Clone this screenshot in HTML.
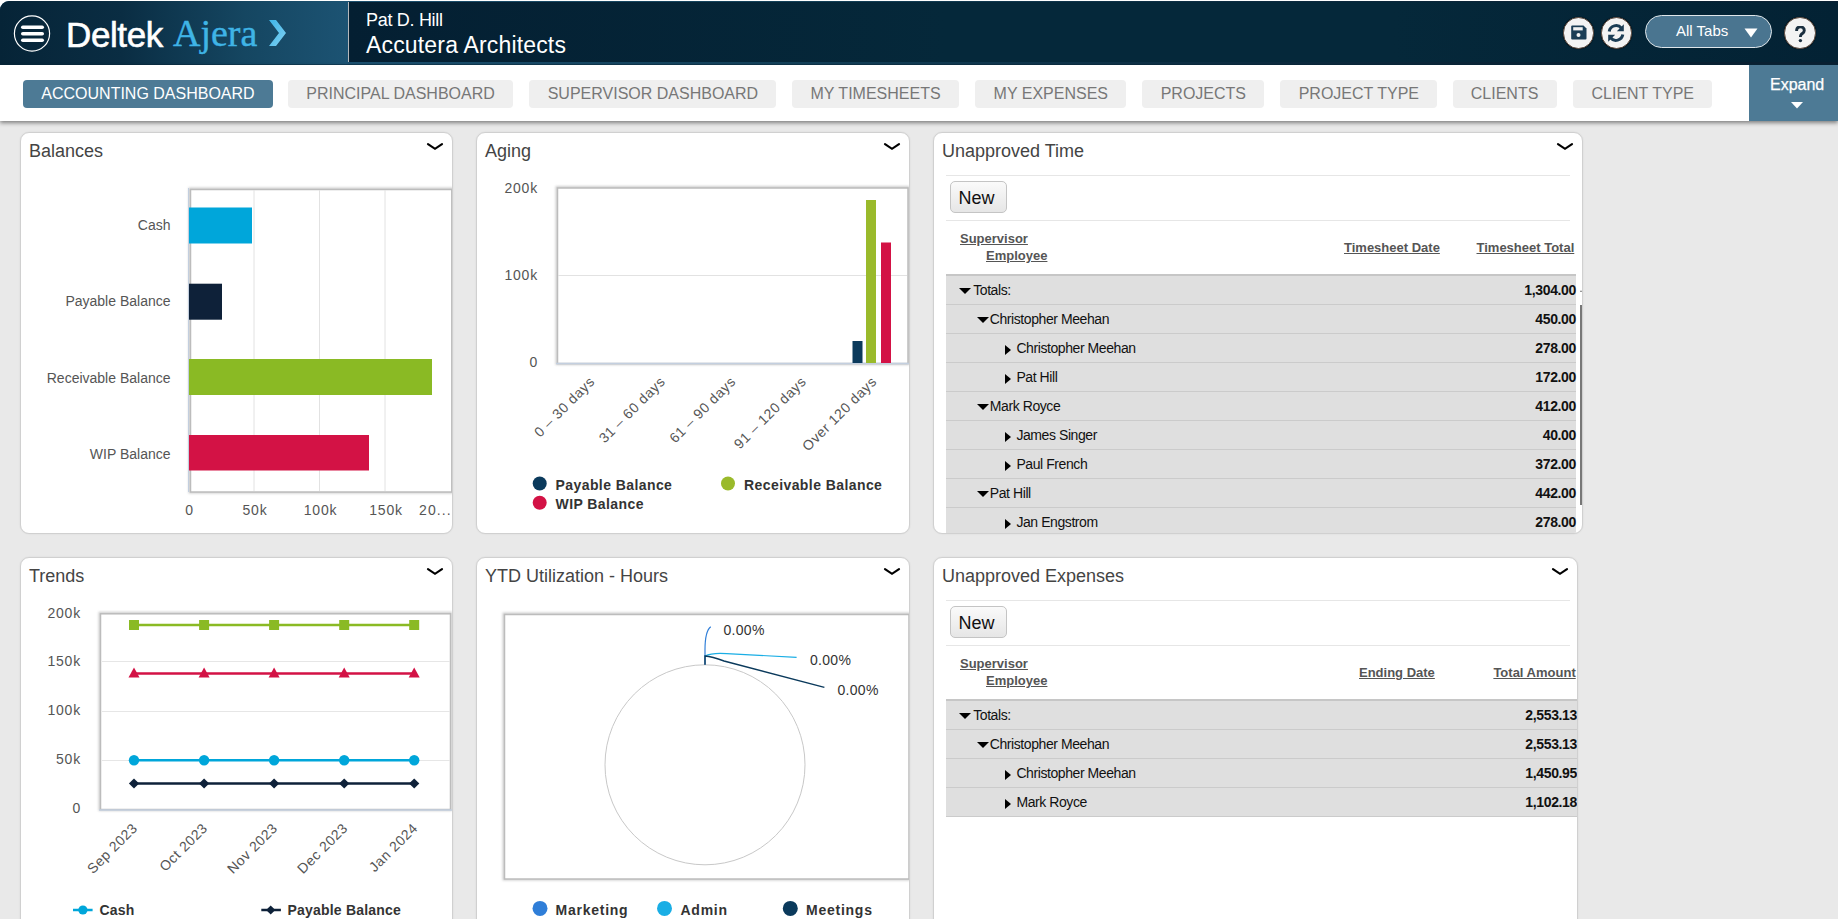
<!DOCTYPE html>
<html><head><meta charset="utf-8">
<style>
*{box-sizing:border-box;margin:0;padding:0}
html,body{width:1838px;height:919px;overflow:hidden}
body{background:#e9e9e9;font-family:"Liberation Sans",sans-serif;position:relative}
.abs{position:absolute}
#hdr{position:absolute;left:0;top:1px;width:1838px;height:64px;background:linear-gradient(90deg,#1b4f6e 0,#1b4f6e 360px,#134058 800px,#0c2b40 1250px,#0a2133 1600px);border-top-left-radius:9px;overflow:hidden}
#hdrL{position:absolute;left:0;top:0;width:348px;height:64px;background:linear-gradient(90deg,#062437 0%,#0a2d43 35%,#154661 70%,#1c5373 100%)}
#hdrLine{position:absolute;left:348px;top:1px;width:1px;height:60px;background:#b4b8bc}
#hdrR{position:absolute;left:349px;top:1px;width:1489px;height:60px;background:linear-gradient(90deg,#041f32 0%,#05283a 40%,#05283a 70%,#032234 100%)}
#hdrB{position:absolute;left:0;top:63px;width:1838px;height:1px;background:rgba(8,40,60,.5)}
#tabbar{position:absolute;left:0;top:65px;width:1838px;height:56px;background:#fff;box-shadow:0 2px 4px rgba(0,0,0,.45)}
.tab{position:absolute;top:15px;height:28px;border-radius:4px;background:#efefef;color:#777;font-size:16px;line-height:28px;padding:0 18.3px;white-space:nowrap}
.tab.act{background:#4d7a95;color:#fff}
#expand{position:absolute;left:1749px;top:0;width:89px;height:56px;background:#4d7a95;color:#fff;font-size:16px}
.panel{position:absolute;background:#fff;border:1px solid #d0d0d0;border-radius:9px;overflow:hidden;box-shadow:0 0 2px rgba(0,0,0,.08)}
.ptitle{position:absolute;left:8px;top:7.8px;font-size:18px;color:#444;white-space:nowrap}
.circ{width:31.5px;height:31.5px;border-radius:50%;background:#f3f3f3;border:1px solid #5a4a40;box-shadow:0 0 1px #000}
.chev{position:absolute;top:10px;width:16px;height:8px;overflow:visible}

.hl{position:absolute;height:1px;background:#e6e6e6}
.btn{position:absolute;width:57px;height:32px;border:1px solid #c4c4c4;border-radius:5px;background:linear-gradient(#fafafa,#e6e6e6);font-size:18px;color:#111;line-height:33px;padding-left:7.5px}
.th{position:absolute;font-size:13px;font-weight:bold;color:#555;text-decoration:underline;white-space:nowrap;line-height:15px}
.rows{position:absolute;background:#dfdfdf;border-top:2px solid #c6c6c6}
.row{position:relative;height:29px;border-bottom:1px solid #cbcbcb;font-size:14px;letter-spacing:-0.42px;color:#111;line-height:28px;white-space:nowrap}
.row .t{position:absolute;top:0.3px}
.row .n{position:absolute;right:0px;top:-0.5px;font-weight:bold;font-size:14px;letter-spacing:-0.35px}
.td{position:absolute;width:0;height:0;border-left:6px solid transparent;border-right:6px solid transparent;border-top:6px solid #000}
.tr{position:absolute;width:0;height:0;border-top:5px solid transparent;border-bottom:5px solid transparent;border-left:6.5px solid #000}
</style></head><body>
<div class="abs" style="left:0;top:0;width:1838px;height:66px;background:#fff"></div>
<div id="hdr">
  <div id="hdrL"></div>
  <div id="hdrLine"></div>
  <div id="hdrR"></div>
  <div id="hdrB"></div>

  <svg class="abs" style="left:13px;top:14px" width="38" height="38" viewBox="0 0 38 38">
    <circle cx="19" cy="18.5" r="17.6" fill="none" stroke="#fff" stroke-width="1.2"/>
    <g stroke="#fff" stroke-width="3.6" stroke-linecap="round">
      <line x1="9.8" y1="12.2" x2="29.2" y2="12.2"/><line x1="9.8" y1="18.7" x2="29.2" y2="18.7"/><line x1="9.8" y1="25.2" x2="29.2" y2="25.2"/>
    </g>
  </svg>
  <div class="abs" style="left:66px;top:13.5px;font-size:35px;color:#fff;letter-spacing:-0.4px;-webkit-text-stroke:0.6px #fff;line-height:40px">Deltek</div>
  <div class="abs" style="left:173px;top:12px;font-family:'Liberation Serif',serif;font-size:38px;color:#3fb4e6;line-height:40px;-webkit-text-stroke:0.4px #3fb4e6">Ajera</div>
  <svg class="abs" style="left:268px;top:19px" width="20" height="28" viewBox="0 0 20 28">
    <defs><linearGradient id="cg" x1="0" y1="0" x2="1" y2="1"><stop offset="0" stop-color="#3db5e8"/><stop offset="1" stop-color="#7fd0f2"/></linearGradient></defs>
    <path d="M1 0 L8 0 L18 13 L8 26 L1 26 L11 13 Z" fill="url(#cg)"/>
  </svg>
  <div class="abs" style="left:366px;top:8.5px;font-size:18px;color:#fff;line-height:20px;letter-spacing:-0.3px">Pat D. Hill</div>
  <div class="abs" style="left:366px;top:31.3px;font-size:23px;color:#fff;line-height:26px;letter-spacing:0.17px">Accutera Architects</div>
  <div class="abs circ" style="left:1562.5px;top:16px"></div>
  <div class="abs circ" style="left:1600.5px;top:16px"></div>
  <svg class="abs" style="left:1571px;top:24px" width="16" height="15" viewBox="0 0 16 15">
    <path d="M1.2 0.5 H12.5 L15.5 3.5 V13.5 Q15.5 14.5 14.5 14.5 H1.2 Q0.2 14.5 0.2 13.5 V1.5 Q0.2 0.5 1.2 0.5 Z" fill="#1b3d55"/>
    <rect x="2.2" y="2.2" width="9.5" height="3.2" fill="#f2f2f2"/>
    <circle cx="7.5" cy="10" r="2" fill="#f2f2f2"/>
  </svg>
  <svg class="abs" style="left:1606px;top:22px" width="20" height="20" viewBox="0 0 20 20">
    <path d="M3.2 8.5 A7 7 0 0 1 15.5 5.2" fill="none" stroke="#1b3d55" stroke-width="3"/>
    <path d="M17.8 1.2 L17.8 8.2 L10.8 8.2 Z" fill="#1b3d55"/>
    <path d="M16.8 11.5 A7 7 0 0 1 4.5 14.8" fill="none" stroke="#1b3d55" stroke-width="3"/>
    <path d="M2.2 18.8 L2.2 11.8 L9.2 11.8 Z" fill="#1b3d55"/>
  </svg>
  <div class="abs" style="left:1645px;top:14px;width:127px;height:33px;border-radius:17px;background:#4a7590;border:1px solid #dfe6ea"></div>
  <div class="abs" style="left:1676px;top:20.5px;font-size:15px;color:#fff;line-height:18px">All Tabs</div>
  <svg class="abs" style="left:1744px;top:27px" width="14" height="10" viewBox="0 0 14 10"><path d="M0.5 0.5 H13.5 L7 9.5 Z" fill="#fff"/></svg>
  <div class="abs circ" style="left:1784px;top:16px"></div>
  <svg class="abs" style="left:1794.5px;top:24.5px" width="11" height="17" viewBox="0 0 11 17"><path d="M1.6 5 C1.6 2.2 3.4 0.9 5.4 0.9 C7.6 0.9 9.3 2.3 9.3 4.4 C9.3 6.5 7.6 7.3 6.5 8.2 C5.7 8.9 5.4 9.5 5.4 11" fill="none" stroke="#1b2f3f" stroke-width="2.9"/><circle cx="5.4" cy="14.6" r="1.7" fill="#1b2f3f"/></svg>
</div>
<div id="tabbar">
  <div class="tab act" style="left:23px">ACCOUNTING DASHBOARD</div>
  <div class="tab" style="left:288px">PRINCIPAL DASHBOARD</div>
  <div class="tab" style="left:529.4px">SUPERVISOR DASHBOARD</div>
  <div class="tab" style="left:792.2px">MY TIMESHEETS</div>
  <div class="tab" style="left:975.3px">MY EXPENSES</div>
  <div class="tab" style="left:1142.4px">PROJECTS</div>
  <div class="tab" style="left:1280.4px">PROJECT TYPE</div>
  <div class="tab" style="left:1452.5px">CLIENTS</div>
  <div class="tab" style="left:1573.2px">CLIENT TYPE</div>
  <div id="expand"><div class="abs" style="left:21px;top:11px;line-height:18px;-webkit-text-stroke:0.25px #fff">Expand</div><svg class="abs" style="left:42px;top:37px" width="12" height="7" viewBox="0 0 12 7"><path d="M0 0 H12 L6 6.5 Z" fill="#fff"/></svg></div>
</div>

<div class="panel" id="p1" style="left:20px;top:132px;width:433px;height:402px">
  <div class="ptitle">Balances</div><svg class="chev" style="right:9.5px" viewBox="0 0 16 8"><path d="M1 1.2 L8 5.8 L15 1.2" fill="none" stroke="#000" stroke-width="2.2" stroke-linecap="round" stroke-linejoin="miter"/></svg>
  <svg class="abs" style="left:-1px;top:-1px" width="433" height="402" viewBox="20 132 433 402" font-family="Liberation Sans, sans-serif">
    <defs><filter id="fs" x="-5%" y="-5%" width="110%" height="110%"><feGaussianBlur stdDeviation="0.8"/></filter></defs>
    <rect x="190" y="189" width="262" height="303" fill="none" stroke="#cfcfcf" stroke-width="3" filter="url(#fs)"/>
    <rect x="190.5" y="189.5" width="261.3" height="302.5" fill="#fff" stroke="#bcbcbc" stroke-width="1.5"/>
    <g stroke="#e2e2e2" stroke-width="1"><line x1="254" y1="190" x2="254" y2="491"/><line x1="319.5" y1="190" x2="319.5" y2="491"/><line x1="385" y1="190" x2="385" y2="491"/></g>
    <line x1="188.5" y1="188" x2="188.5" y2="492" stroke="#c3cfdf" stroke-width="1"/>
    <rect x="189" y="207.5" width="63" height="36" fill="#00a6da"/>
    <rect x="189" y="283.7" width="33" height="36" fill="#0e2139"/>
    <rect x="189" y="359" width="243" height="36" fill="#8aba24"/>
    <rect x="189" y="435" width="180" height="35.5" fill="#d31245"/>
    <g font-size="14" fill="#555" text-anchor="end">
      <text x="170.5" y="230">Cash</text><text x="170.5" y="306">Payable Balance</text><text x="170.5" y="382.5">Receivable Balance</text><text x="170.5" y="459">WIP Balance</text>
    </g>
    <g font-size="14" fill="#555" text-anchor="middle" letter-spacing="0.8">
      <text x="189.5" y="515">0</text><text x="255" y="515">50k</text><text x="320.5" y="515">100k</text><text x="386" y="515">150k</text><text x="419" y="515" text-anchor="start" letter-spacing="1.1">20...</text>
    </g>
  </svg>
</div>
<div class="panel" id="p2" style="left:476px;top:132px;width:434px;height:402px">
  <div class="ptitle">Aging</div><svg class="chev" style="right:9.5px" viewBox="0 0 16 8"><path d="M1 1.2 L8 5.8 L15 1.2" fill="none" stroke="#000" stroke-width="2.2" stroke-linecap="round" stroke-linejoin="miter"/></svg>
  <svg class="abs" style="left:-1px;top:-1px" width="434" height="402" viewBox="476 132 434 402" font-family="Liberation Sans, sans-serif">
    <rect x="557" y="187.5" width="351" height="176" fill="none" stroke="#cfcfcf" stroke-width="3" filter="url(#fs)"/>
    <rect x="557.5" y="188" width="350.5" height="175.5" fill="#fff" stroke="#bcbcbc" stroke-width="1.5"/>
    <line x1="558" y1="275.5" x2="907" y2="275.5" stroke="#e2e2e2"/>
    <line x1="556" y1="363.5" x2="909" y2="363.5" stroke="#c3cfdf" stroke-width="1.5"/>
    <rect x="852.5" y="341" width="10" height="22" fill="#0b3a5c"/>
    <rect x="866" y="200" width="10" height="163" fill="#9aba2b"/>
    <rect x="881" y="242.5" width="10" height="120.5" fill="#d31245"/>
    <g font-size="14" fill="#555" text-anchor="end" letter-spacing="0.8">
      <text x="538" y="192.5">200k</text><text x="538" y="279.5">100k</text><text x="538" y="367">0</text>
    </g>
    <g font-size="14" fill="#555" text-anchor="end" letter-spacing="0.55">
      <text transform="translate(595.5,382.5) rotate(-45)">0 – 30 days</text>
      <text transform="translate(666,382.5) rotate(-45)">31 – 60 days</text>
      <text transform="translate(736.5,382.5) rotate(-45)">61 – 90 days</text>
      <text transform="translate(807,382.5) rotate(-45)">91 – 120 days</text>
      <text transform="translate(877.5,382.5) rotate(-45)">Over 120 days</text>
    </g>
    <circle cx="539.7" cy="483.5" r="7" fill="#0b3a5c"/>
    <circle cx="728" cy="483.5" r="7" fill="#9aba2b"/>
    <circle cx="539.7" cy="502.8" r="7" fill="#d31245"/>
    <g font-size="14" font-weight="bold" fill="#333" letter-spacing="0.42">
      <text x="555.5" y="489.5">Payable Balance</text><text x="744" y="489.5">Receivable Balance</text><text x="555.5" y="508.5">WIP Balance</text>
    </g>
  </svg>
</div>
<div class="panel" id="p3" style="left:933px;top:132px;width:650px;height:402px">
  <div class="ptitle">Unapproved Time</div>
  <div class="hl" style="left:12px;top:42px;width:624px"></div>
  <div class="btn" style="left:16px;top:48px">New</div>
  <div class="hl" style="left:12px;top:87px;width:624px"></div>
  <div class="th" style="left:26px;top:98px">Supervisor</div>
  <div class="th" style="left:52px;top:115px">Employee</div>
  <div class="th" style="left:410px;top:107px">Timesheet Date</div>
  <div class="th" style="left:542.5px;top:107px">Timesheet Total</div>
  <div class="rows" style="left:12px;top:141px;width:630px">
<div class="row"><div class="td" style="left:12.9px;top:11.8px"></div><span class="t" style="left:27.2px">Totals:</span><span class="n">1,304.00</span></div>
<div class="row"><div class="td" style="left:30.6px;top:11.8px"></div><span class="t" style="left:43.8px">Christopher Meehan</span><span class="n">450.00</span></div>
<div class="row"><div class="tr" style="left:59.3px;top:11px"></div><span class="t" style="left:70.4px">Christopher Meehan</span><span class="n">278.00</span></div>
<div class="row"><div class="tr" style="left:59.3px;top:11px"></div><span class="t" style="left:70.4px">Pat Hill</span><span class="n">172.00</span></div>
<div class="row"><div class="td" style="left:30.6px;top:11.8px"></div><span class="t" style="left:43.8px">Mark Royce</span><span class="n">412.00</span></div>
<div class="row"><div class="tr" style="left:59.3px;top:11px"></div><span class="t" style="left:70.4px">James Singer</span><span class="n">40.00</span></div>
<div class="row"><div class="tr" style="left:59.3px;top:11px"></div><span class="t" style="left:70.4px">Paul French</span><span class="n">372.00</span></div>
<div class="row"><div class="td" style="left:30.6px;top:11.8px"></div><span class="t" style="left:43.8px">Pat Hill</span><span class="n">442.00</span></div>
<div class="row"><div class="tr" style="left:59.3px;top:11px"></div><span class="t" style="left:70.4px">Jan Engstrom</span><span class="n">278.00</span></div>
  </div>
  <div class="abs" style="left:646px;top:172px;width:2px;height:200px;background:#777"></div><div class="abs" style="left:645.5px;top:157px;width:0;height:0;border-left:1.5px solid transparent;border-right:1.5px solid transparent;border-bottom:2px solid #777"></div>
<svg class="chev" style="right:9.5px" viewBox="0 0 16 8"><path d="M1 1.2 L8 5.8 L15 1.2" fill="none" stroke="#000" stroke-width="2.2" stroke-linecap="round" stroke-linejoin="miter"/></svg>
</div>
<div class="panel" id="p4" style="left:20px;top:557px;width:433px;height:420px">
  <div class="ptitle">Trends</div><svg class="chev" style="right:9.5px" viewBox="0 0 16 8"><path d="M1 1.2 L8 5.8 L15 1.2" fill="none" stroke="#000" stroke-width="2.2" stroke-linecap="round" stroke-linejoin="miter"/></svg>
  <svg class="abs" style="left:-1px;top:-1px" width="433" height="420" viewBox="20 557 433 420" font-family="Liberation Sans, sans-serif">
    <rect x="100" y="613.3" width="350.5" height="196.2" fill="none" stroke="#cfcfcf" stroke-width="3" filter="url(#fs)"/>
    <rect x="100.5" y="613.8" width="350" height="195.7" fill="#fff" stroke="#bcbcbc" stroke-width="1.5"/>
    <g stroke="#e6e6e6"><line x1="102" y1="661.5" x2="450" y2="661.5"/><line x1="102" y1="711.5" x2="450" y2="711.5"/><line x1="102" y1="760.5" x2="450" y2="760.5"/></g>
    <line x1="99" y1="810" x2="452" y2="810" stroke="#c3cfdf" stroke-width="1.5"/>
    <g stroke-width="2.5" fill="none">
      <line x1="134" y1="625" x2="414.2" y2="625" stroke="#8aba24"/>
      <line x1="134" y1="673.4" x2="414.2" y2="673.4" stroke="#d31245"/>
      <line x1="134" y1="760.3" x2="414.2" y2="760.3" stroke="#00a6da"/>
      <line x1="134" y1="783.5" x2="414.2" y2="783.5" stroke="#0e2139"/>
    </g>
    <rect x="129.0" y="620.0" width="10" height="10" fill="#8aba24"/><rect x="199.1" y="620.0" width="10" height="10" fill="#8aba24"/><rect x="269.1" y="620.0" width="10" height="10" fill="#8aba24"/><rect x="339.2" y="620.0" width="10" height="10" fill="#8aba24"/><rect x="409.2" y="620.0" width="10" height="10" fill="#8aba24"/><path d="M134.0 667.4 L139.5 677.4 L128.5 677.4 Z" fill="#d31245"/><path d="M204.1 667.4 L209.6 677.4 L198.6 677.4 Z" fill="#d31245"/><path d="M274.1 667.4 L279.6 677.4 L268.6 677.4 Z" fill="#d31245"/><path d="M344.2 667.4 L349.7 677.4 L338.7 677.4 Z" fill="#d31245"/><path d="M414.2 667.4 L419.7 677.4 L408.7 677.4 Z" fill="#d31245"/><circle cx="134.0" cy="760.3" r="5.2" fill="#00a6da"/><circle cx="204.1" cy="760.3" r="5.2" fill="#00a6da"/><circle cx="274.1" cy="760.3" r="5.2" fill="#00a6da"/><circle cx="344.2" cy="760.3" r="5.2" fill="#00a6da"/><circle cx="414.2" cy="760.3" r="5.2" fill="#00a6da"/><path d="M134.0 778.4 L139.1 783.5 L134.0 788.6 L128.9 783.5 Z" fill="#0e2139"/><path d="M204.1 778.4 L209.2 783.5 L204.1 788.6 L199.0 783.5 Z" fill="#0e2139"/><path d="M274.1 778.4 L279.2 783.5 L274.1 788.6 L269.0 783.5 Z" fill="#0e2139"/><path d="M344.2 778.4 L349.3 783.5 L344.2 788.6 L339.1 783.5 Z" fill="#0e2139"/><path d="M414.2 778.4 L419.3 783.5 L414.2 788.6 L409.1 783.5 Z" fill="#0e2139"/>
    <g font-size="14" fill="#555" text-anchor="end" letter-spacing="0.8">
      <text x="81" y="617.5">200k</text><text x="81" y="665.7">150k</text><text x="81" y="715.2">100k</text><text x="81" y="764.2">50k</text><text x="81" y="813">0</text>
    </g>
    <g font-size="14" fill="#555" text-anchor="end" letter-spacing="0.55">
      <text transform="translate(138.4,829) rotate(-45)">Sep 2023</text>
      <text transform="translate(208.5,829) rotate(-45)">Oct 2023</text>
      <text transform="translate(278.5,829) rotate(-45)">Nov 2023</text>
      <text transform="translate(348.6,829) rotate(-45)">Dec 2023</text>
      <text transform="translate(418.6,829) rotate(-45)">Jan 2024</text>
    </g>
    <line x1="73" y1="910" x2="92.6" y2="910" stroke="#00a6da" stroke-width="2.5"/>
    <circle cx="82.9" cy="910" r="4.6" fill="#00a6da"/>
    <line x1="261.3" y1="910" x2="280.9" y2="910" stroke="#0e2139" stroke-width="2.5"/>
    <path d="M270.7 905.4 L275.3 910 L270.7 914.6 L266.1 910 Z" fill="#0e2139"/>
    <g font-size="14" font-weight="bold" fill="#333" letter-spacing="0.2">
      <text x="99.5" y="914.5">Cash</text><text x="287.5" y="914.5">Payable Balance</text>
    </g>
  </svg>
</div>
<div class="panel" id="p5" style="left:476px;top:557px;width:434px;height:420px">
  <div class="ptitle">YTD Utilization - Hours</div><svg class="chev" style="right:9.5px" viewBox="0 0 16 8"><path d="M1 1.2 L8 5.8 L15 1.2" fill="none" stroke="#000" stroke-width="2.2" stroke-linecap="round" stroke-linejoin="miter"/></svg>
  <svg class="abs" style="left:-1px;top:-1px" width="434" height="420" viewBox="476 557 434 420" font-family="Liberation Sans, sans-serif">
    <rect x="504" y="614" width="405" height="265" fill="none" stroke="#cfcfcf" stroke-width="3" filter="url(#fs)"/>
    <rect x="504.5" y="614.5" width="404.5" height="264.5" fill="#fff" stroke="#bcbcbc" stroke-width="1.5"/>
    <circle cx="705" cy="764.8" r="100" fill="#fff" stroke="#c8c8c8" stroke-width="1"/>
    <path d="M705 664.7 L705 650 Q705 631 710.8 626.8" fill="none" stroke="#2f7ed8" stroke-width="1.2"/>
    <path d="M705 656 Q712 652.5 726.6 653.6 L796.6 657.4" fill="none" stroke="#1aaee5" stroke-width="1.2"/>
    <path d="M705 664.7 L705 656 Q712 656.5 724 661 L824.4 687.4" fill="none" stroke="#0b3a5c" stroke-width="1.4"/>
    <g font-size="14" fill="#333" letter-spacing="0.3">
      <text x="723.5" y="635">0.00%</text><text x="810" y="665">0.00%</text><text x="837.5" y="695">0.00%</text>
    </g>
    <circle cx="540" cy="908.4" r="7.5" fill="#2f7ed8"/>
    <circle cx="664.5" cy="908.4" r="7.5" fill="#1aaee5"/>
    <circle cx="790.3" cy="908.4" r="7.5" fill="#0b3a5c"/>
    <g font-size="14" font-weight="bold" fill="#333" letter-spacing="0.75">
      <text x="555.5" y="914.5">Marketing</text><text x="680.5" y="914.5">Admin</text><text x="806" y="914.5">Meetings</text>
    </g>
  </svg>
</div>
<div class="panel" id="p6" style="left:933px;top:557px;width:645px;height:420px">
  <div class="ptitle">Unapproved Expenses</div><svg class="chev" style="right:9.5px" viewBox="0 0 16 8"><path d="M1 1.2 L8 5.8 L15 1.2" fill="none" stroke="#000" stroke-width="2.2" stroke-linecap="round" stroke-linejoin="miter"/></svg>
  <div class="hl" style="left:12px;top:42px;width:624px"></div>
  <div class="btn" style="left:16px;top:48px">New</div>
  <div class="hl" style="left:12px;top:87px;width:624px"></div>
  <div class="th" style="left:26px;top:98px">Supervisor</div>
  <div class="th" style="left:52px;top:115px">Employee</div>
  <div class="th" style="left:425px;top:107px">Ending Date</div>
  <div class="th" style="left:559.4px;top:107px">Total Amount</div>
  <div class="rows" style="left:12px;top:141px;width:631px">
<div class="row"><div class="td" style="left:12.9px;top:11.8px"></div><span class="t" style="left:27.2px">Totals:</span><span class="n">2,553.13</span></div>
<div class="row"><div class="td" style="left:30.6px;top:11.8px"></div><span class="t" style="left:43.8px">Christopher Meehan</span><span class="n">2,553.13</span></div>
<div class="row"><div class="tr" style="left:59.3px;top:11px"></div><span class="t" style="left:70.4px">Christopher Meehan</span><span class="n">1,450.95</span></div>
<div class="row"><div class="tr" style="left:59.3px;top:11px"></div><span class="t" style="left:70.4px">Mark Royce</span><span class="n">1,102.18</span></div>
  </div>

</div>
</body></html>
